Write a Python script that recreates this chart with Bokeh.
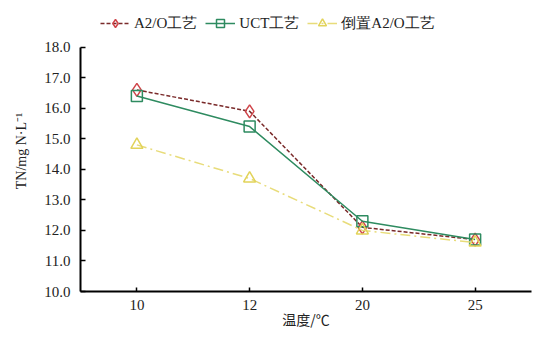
from bokeh.plotting import figure
from bokeh.models import FactorRange, Range1d, Legend, LegendItem, SingleIntervalTicker, CustomJSTickFormatter
from bokeh.embed import file_html
from bokeh.resources import INLINE

temps = ["10", "12", "20", "25"]
a2o = [16.6, 15.9, 12.1, 11.7]
uct = [16.4, 15.4, 12.3, 11.7]
inv_a2o = [14.8, 13.7, 12.0, 11.6]
series_names = ["A2/O工艺", "UCT工艺", "倒置A2/O工艺"]

p = figure(width=545, height=340, x_range=FactorRange(*temps), y_range=Range1d(10, 19.2),
           output_backend="svg", toolbar_location=None,
           min_border_left=80, min_border_right=14, min_border_top=10, min_border_bottom=49)
p.outline_line_color = None
p.grid.visible = False
p.background_fill_color = "white"

serif = "'Liberation Serif', 'Times New Roman', serif"
cjk = "'Noto Sans CJK SC', sans-serif"

r1l = p.line(temps, a2o, line_color="#7a2a2a", line_width=1.5, line_dash="4 2")
r1m = p.scatter(temps, a2o, marker="diamond", size=13, fill_color="white", fill_alpha=0.0,
                line_color="#d0454a", line_width=1.5)
r2l = p.line(temps, uct, line_color="#2e8b60", line_width=1.5)
r2m = p.scatter(temps, uct, marker="square", size=11, fill_color="white", fill_alpha=0.0,
                line_color="#2e8b60", line_width=1.5)
r3l = p.line(temps, inv_a2o, line_color="#e8dc7a", line_width=1.5, line_dash="10 4 2 4")
r3m = p.scatter(temps, inv_a2o, marker="triangle", size=12, fill_color="white", fill_alpha=0.0,
                line_color="#e2d35a", line_width=1.5)

legend = Legend(items=[LegendItem(label=series_names[0], renderers=[r1l, r1m]),
                       LegendItem(label=series_names[1], renderers=[r2l, r2m]),
                       LegendItem(label=series_names[2], renderers=[r3l, r3m])],
                orientation="horizontal", location=(20, 258), border_line_color=None,
                background_fill_alpha=0.0,
                label_text_font=serif, label_text_font_size="15px", label_text_color="#222222",
                glyph_width=30, spacing=8, padding=2, margin=0, label_standoff=4)
p.add_layout(legend)

p.yaxis.ticker = SingleIntervalTicker(interval=1)
p.yaxis.bounds = (10, 18)
p.yaxis.formatter = CustomJSTickFormatter(code="return tick.toFixed(1);")
for ax in (p.xaxis[0], p.yaxis[0]):
    ax.axis_line_color = "black"
    ax.axis_line_width = 2
    ax.major_tick_in = 5
    ax.major_tick_out = 0
    ax.major_tick_line_color = "black"
    ax.major_tick_line_width = 1.5
    ax.minor_tick_line_color = None
    ax.major_label_text_font = serif
    ax.major_label_text_font_size = "15px"
    ax.major_label_text_color = "#222222"
    ax.axis_label_text_font_style = "normal"
    ax.axis_label_text_font_size = "14px"
    ax.axis_label_text_color = "#222222"

p.yaxis.axis_label = "TN/mg N·L⁻¹"
p.yaxis.axis_label_text_font = serif
p.yaxis.axis_label_standoff = 12
p.yaxis.major_label_standoff = 6
p.xaxis.axis_label = "温度/℃"
p.xaxis.axis_label_text_font = cjk
p.xaxis.axis_label_standoff = -4
p.xaxis.major_label_standoff = 8
p.xaxis.major_tick_in = 4

open("out.html", "w").write(file_html(p, INLINE))
